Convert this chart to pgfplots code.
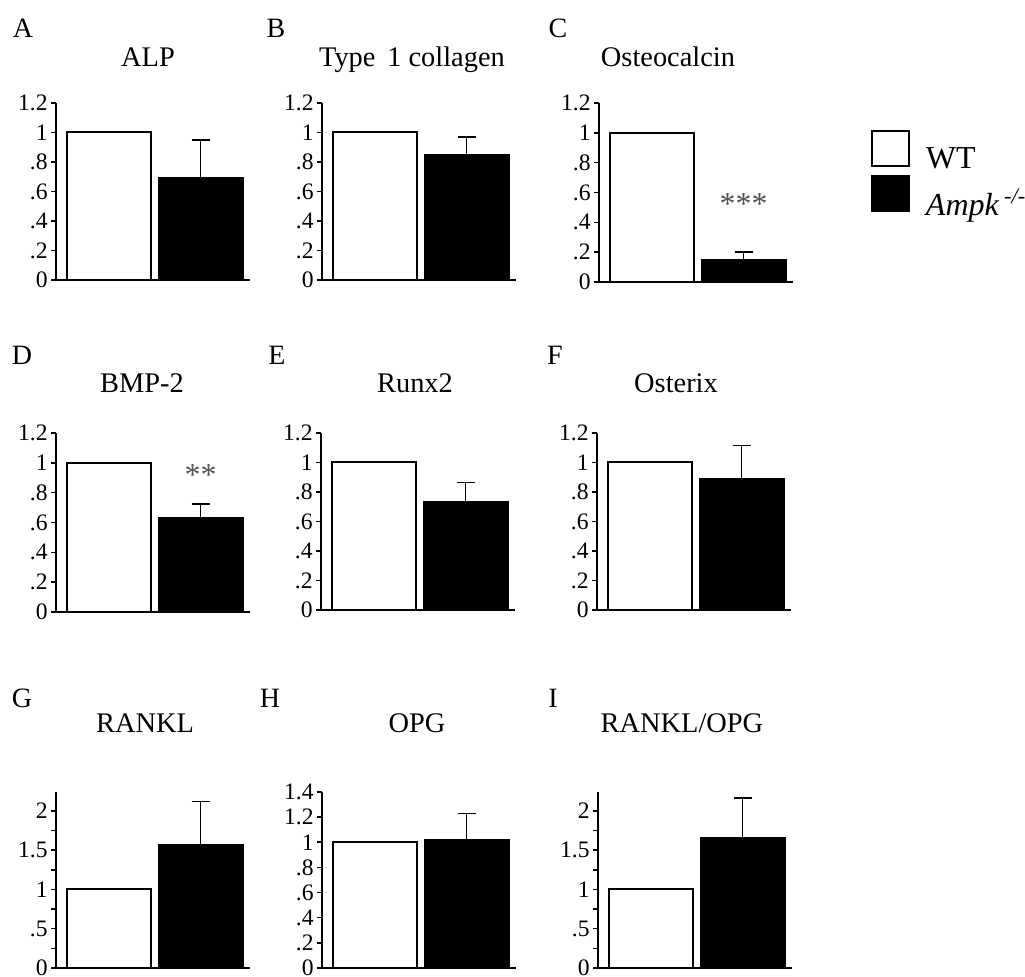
\documentclass[border=0pt]{standalone}
\usepackage{pgfplots}
\pgfplotsset{compat=1.18}
\usepackage{fontspec}
\setmainfont{Liberation Serif}
\definecolor{stargray}{HTML}{555555}

\pgfplotsset{
  panel/.style={
    scale only axis, width=97pt, anchor=south west,
    axis lines=left, axis line style={-, line width=1pt},
    xmin=-0.58, xmax=1.54, ymin=0,
    xtick=\empty,
    ybar, bar width=42pt, bar shift=0pt,
    tick align=outside, major tick length=2.5pt,
    ytick style={line width=0.8pt, black},
    yticklabel style={font=\fontsize{11.8}{13}\selectfont, inner sep=1.5pt},
    clip=false,
  },
  wt/.style={fill=white, draw=black, line width=1pt},
  ko/.style={fill=black, draw=black, line width=1pt,
    error bars/.cd, y dir=plus, y explicit,
    error bar style={line width=0.8pt, black},
    error mark options={rotate=90, mark size=4.5pt, line width=0.8pt, black}},
  r12/.style={ymax=1.2, ytick={0,0.2,0.4,0.6,0.8,1,1.2}, yticklabels={0,.2,.4,.6,.8,1,1.2}},
  r14/.style={ymax=1.4, ytick={0,0.2,0.4,0.6,0.8,1,1.2,1.4}, yticklabels={0,.2,.4,.6,.8,1,1.2,1.4}},
  r22/.style={ymax=2.24, ytick={0,0.25,0.5,0.75,1,1.25,1.5,1.75,2}, yticklabels={0,,.5,,1,,1.5,,2}},
}
\tikzset{
  lett/.style={anchor=base, font=\fontsize{14}{16}\selectfont},
  ttl/.style={anchor=base, font=\fontsize{14.2}{16}\selectfont},
  stars/.style={text=stargray, font=\fontsize{16}{18}\selectfont},
}

\begin{document}
\begin{tikzpicture}
\path[use as bounding box] (0pt,0pt) rectangle (512.5pt,488.5pt);

% Row 1
\begin{axis}[panel, r12, at={(28pt,348.5pt)}, height=88.5pt]
\addplot[wt] coordinates {(0,1)};
\addplot[ko] coordinates {(1,0.69) +- (0,0.26)};
\end{axis}
\begin{axis}[panel, r12, at={(161pt,348.5pt)}, height=88.5pt]
\addplot[wt] coordinates {(0,1)};
\addplot[ko] coordinates {(1,0.85) +- (0,0.12)};
\end{axis}
\begin{axis}[panel, r12, at={(299.5pt,347.5pt)}, height=89.5pt,
  legend style={at={(1.402,0.849)}, anchor=north west, draw=none, fill=none,
    inner sep=0pt, outer sep=0pt, row sep=1.75pt, column sep=8pt,
    font=\fontsize{16}{18}\selectfont, nodes={inner sep=0pt, outer sep=0pt}},
  legend cell align=left,
  legend image code/.code={\draw[#1, line width=1pt] (0pt,-3.45pt) rectangle (18.5pt,14.05pt);}]
\addplot[wt] coordinates {(0,1)};
\addlegendentry{WT}
\addplot[ko] coordinates {(1,0.148) +- (0,0.052)};
\addlegendentry{\textit{Ampk\,\textsuperscript{-/-}}}
\node[stars] at (axis cs:1,0.52) {***};
\end{axis}

% Row 2
\begin{axis}[panel, r12, at={(28pt,182.5pt)}, height=89.5pt]
\addplot[wt] coordinates {(0,1)};
\addplot[ko] coordinates {(1,0.63) +- (0,0.095)};
\node[stars] at (axis cs:1,0.92) {**};
\end{axis}
\begin{axis}[panel, r12, at={(160.5pt,183.5pt)}, height=88.5pt]
\addplot[wt] coordinates {(0,1)};
\addplot[ko] coordinates {(1,0.73) +- (0,0.135)};
\end{axis}
\begin{axis}[panel, r12, at={(298.5pt,183.5pt)}, height=88.5pt]
\addplot[wt] coordinates {(0,1)};
\addplot[ko] coordinates {(1,0.89) +- (0,0.225)};
\end{axis}

% Row 3
\begin{axis}[panel, r22, at={(28pt,4.5pt)}, height=88pt]
\addplot[wt] coordinates {(0,1)};
\addplot[ko] coordinates {(1,1.57) +- (0,0.55)};
\end{axis}
\begin{axis}[panel, r14, at={(161pt,4.5pt)}, height=88pt]
\addplot[wt] coordinates {(0,1)};
\addplot[ko] coordinates {(1,1.02) +- (0,0.21)};
\end{axis}
\begin{axis}[panel, r22, at={(299pt,4.5pt)}, height=88pt]
\addplot[wt] coordinates {(0,1)};
\addplot[ko] coordinates {(1,1.65) +- (0,0.51)};
\end{axis}

% Panel letters
\node[lett] at (11.5pt,469.5pt) {A};
\node[lett] at (138pt,469.5pt) {B};
\node[lett] at (279pt,469.5pt) {C};
\node[lett] at (11pt,306pt) {D};
\node[lett] at (138.5pt,306pt) {E};
\node[lett] at (277.5pt,306pt) {F};
\node[lett] at (11pt,134.5pt) {G};
\node[lett] at (135pt,134.5pt) {H};
\node[lett] at (276.5pt,134.5pt) {I};

% Titles
\node[ttl] at (74pt,455pt) {ALP};
\node[ttl] at (206pt,455pt) {Type\, 1 collagen};
\node[ttl] at (334pt,455pt) {Osteocalcin};
\node[ttl] at (71pt,292pt) {BMP-2};
\node[ttl] at (207.5pt,292pt) {Runx2};
\node[ttl] at (338pt,292pt) {Osterix};
\node[ttl] at (72.5pt,122pt) {RANKL};
\node[ttl] at (208.5pt,122pt) {OPG};
\node[ttl] at (341pt,122pt) {RANKL/OPG};
\end{tikzpicture}
\end{document}
